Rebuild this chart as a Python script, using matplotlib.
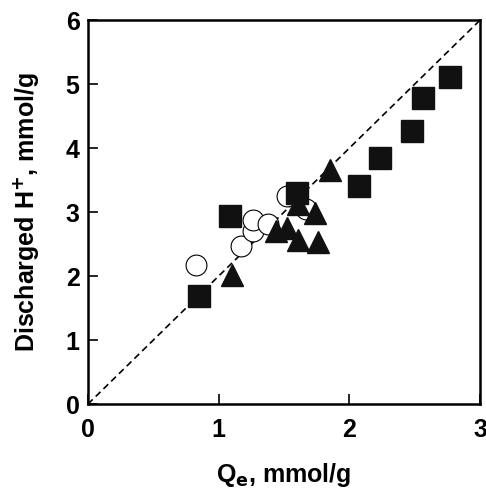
import numpy as np
import matplotlib
matplotlib.use('Agg')
from matplotlib import pyplot as plt

# squares
sq_x = [0.85, 1.09, 1.60, 2.07, 2.23, 2.48, 2.56, 2.77]
sq_y = [1.69, 2.94, 3.30, 3.41, 3.84, 4.27, 4.78, 5.11]
# triangles
tri_x = [1.10, 1.44, 1.52, 1.61, 1.61, 1.74, 1.76, 1.85]
tri_y = [2.02, 2.71, 2.75, 2.57, 3.13, 2.98, 2.53, 3.66]
# open circles
cir_x = [0.83, 1.17, 1.26, 1.26, 1.38, 1.52, 1.67]
cir_y = [2.17, 2.47, 2.70, 2.87, 2.82, 3.25, 3.05]

line_x = [0, 3]
line_y = [0, 6]

plt.rcParams['font.family'] = ['Liberation Sans', 'DejaVu Sans']
plt.rcParams['font.weight'] = 'bold'

fig = plt.figure(figsize=(4.86, 4.88), dpi=100)
ax = fig.add_axes([0.181, 0.172, 0.807, 0.787])

ax.plot(line_x, line_y, '--', color='black', lw=1.2, dashes=(4, 2.5), zorder=1)
ax.plot(cir_x, cir_y, 'o', markersize=15, markerfacecolor='white',
        markeredgecolor='black', markeredgewidth=0.8, zorder=2)
ax.plot(tri_x, tri_y, '^', markersize=16, color='#111111', zorder=3)
ax.plot(sq_x, sq_y, 's', markersize=16, color='#111111', zorder=4)

ax.set_xlim(0, 3)
ax.set_ylim(0, 6)
ax.set_xticks([0, 1, 2, 3])
ax.set_yticks([0, 1, 2, 3, 4, 5, 6])
ax.tick_params(direction='in', length=7, width=1.2, labelsize=18)
ax.tick_params(axis='x', pad=10)
ax.tick_params(axis='y', pad=6)
for s in ax.spines.values():
    s.set_linewidth(1.8)

ax.set_xlabel('Q$_\\mathbf{e}$, mmol/g', fontsize=18, fontweight='bold', labelpad=14)
ax.set_ylabel('Discharged H$^\\mathbf{+}$, mmol/g', fontsize=18, fontweight='bold', labelpad=18)

plt.savefig('out.png', dpi=100)
plt.close()
